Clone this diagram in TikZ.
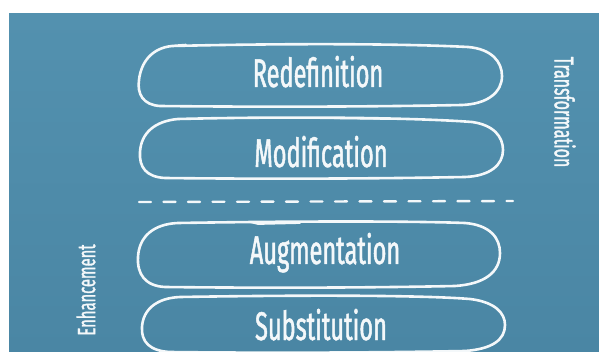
\documentclass[tikz,border=0pt]{standalone}
\usepackage{fontspec}
\newfontfamily\handfont[FakeStretch=0.59, FakeBold=1.2]{Fira Sans}

\definecolor{board}{HTML}{5391AF}
\definecolor{boarddark}{HTML}{4A86A4}
\definecolor{chalk}{HTML}{F4F8FA}

\tikzset{
  outline/.style={draw=chalk, line width=2.6pt, line cap=round, line join=round},
  level/.style={text=chalk, inner sep=0pt, font=\handfont\fontsize{40}{40}\selectfont},
  side/.style={text=chalk, inner sep=0pt, font=\handfont\fontsize{27}{27}\selectfont}
}

\begin{document}
\begin{tikzpicture}[x=1pt,y=-1pt]
\useasboundingbox (0,0) rectangle (599,352);
\fill[white] (0,0) rectangle (599,352);
\fill[top color=board, bottom color=boarddark] (9,14) rectangle (599,352);

\begin{scope}
\clip (9,14) rectangle (599,352);

% the four levels, drawn by hand
\draw[outline]
(172,46) .. controls (300,43) and (410,44) .. (468,47)
.. controls (492,49) and (502,62) .. (502,76)
.. controls (502,92) and (488,104) .. (462,105)
.. controls (360,107) and (250,107) .. (160,106)
.. controls (143,105) and (137,94) .. (139,80)
.. controls (141,62) and (152,48) .. (172,46) -- (186,45);

\draw[outline]
(178,119) .. controls (300,116) and (420,118) .. (472,122)
.. controls (494,125) and (503,137) .. (503,150)
.. controls (503,165) and (490,176) .. (465,177)
.. controls (360,179) and (250,179) .. (165,178)
.. controls (146,177) and (139,167) .. (140,152)
.. controls (141,133) and (155,121) .. (178,119);
\draw[outline, line width=1.8pt] (312,118) -- (392,119);

\draw[outline]
(178,223) .. controls (300,221) and (410,221) .. (465,223)
.. controls (490,225) and (500,238) .. (500,253)
.. controls (500,272) and (485,284) .. (455,286)
.. controls (360,288) and (250,288) .. (165,287)
.. controls (145,286) and (137,274) .. (138,257)
.. controls (139,237) and (153,224) .. (178,223);
\draw[outline, line width=1.8pt] (250,222) -- (258,224) -- (300,223);

\draw[outline]
(180,297) .. controls (300,295) and (420,295) .. (470,299)
.. controls (495,302) and (505,313) .. (505,325)
.. controls (505,340) and (492,349) .. (465,351)
.. controls (360,353) and (250,353) .. (170,352)
.. controls (150,351) and (141,342) .. (142,327)
.. controls (143,310) and (156,298) .. (180,297);
\end{scope}

% border between transformation and enhancement
\draw[chalk, line width=2.4pt, line cap=round, dash pattern=on 12pt off 12.5pt] (139,202) -- (513,201);

\node[level, anchor=base] (redef) at (318,87) {Redefinition};
\node[level, anchor=base] (modif) at (321,167) {Modification};
\node[level, anchor=base] (augment) at (325,264) {Augmentation};
\node[level, anchor=base] (subst) at (321,340) {Substitution};

\node[side, rotate=-90] (transf) at (565,112) {Transformation};
\node[side, rotate=90, font=\handfont\fontsize{25}{25}\selectfont] (enhance) at (86,290) {Enhancement};
\end{tikzpicture}
\end{document}
